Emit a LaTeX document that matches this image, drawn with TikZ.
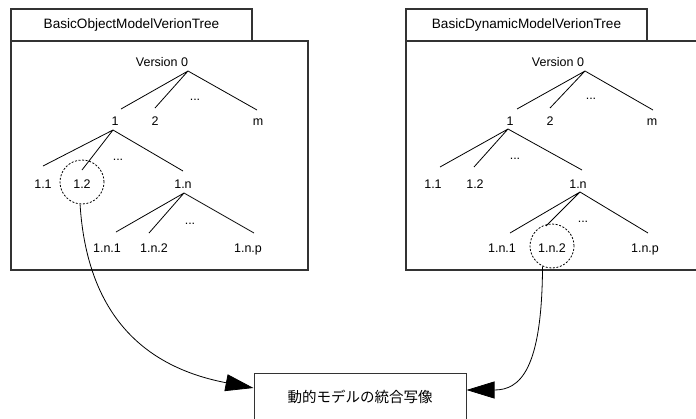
\documentclass[tikz,border=0pt]{standalone}
\usepackage{fontspec}
\setmainfont{Liberation Sans}
\newfontfamily\jpfont{Noto Sans CJK JP}
\usetikzlibrary{arrows.meta}

\begin{document}
\begin{tikzpicture}[x=1pt,y=-1pt,
  frameline/.style={draw=black!80,line width=1.1pt},
  titletab/.style={frameline,minimum width=241pt,minimum height=32pt,inner sep=0pt,
    font=\fontsize{13.6}{15}\selectfont},
  lbl/.style={anchor=base,inner sep=0pt,font=\fontsize{12.5}{14}\selectfont},
  dots/.style={anchor=base,inner sep=0pt,font=\fontsize{12.5}{14}\selectfont},
  branch/.style={line width=0.8pt},
  pick/.style={circle,draw,dashed,dash pattern=on 2pt off 1.6pt,line width=0.8pt,
    minimum size=44pt,inner sep=0pt},
  link/.style={line width=0.8pt,-{Triangle[length=28pt,width=17pt]}},
]
\useasboundingbox (0,0) rectangle (696,418);

% ---------- object model version tree ----------
\node[titletab] (tabL) at (131.5,25) {BasicObjectModelVerionTree};
\node[frameline,minimum width=297pt,minimum height=229pt,inner sep=0pt] (frameL) at (159.5,155.5) {};

\node[lbl] (L0) at (162,66.5) {Version 0};
\coordinate (L0a) at (188,71);
\node[lbl] (L1) at (115,125) {1};
\node[lbl] (L2) at (155,125) {2};
\node[lbl] (Lm) at (258,125) {m};
\node[dots] (Ld0) at (195,100) {...};
\coordinate (L1e) at (121,109);
\coordinate (L2e) at (155,108);
\coordinate (Lme) at (257,110);
\draw[branch] (L0a) -- (L1e) (L0a) -- (L2e) (L0a) -- (Lme);

\coordinate (L1a) at (113,130);
\node[lbl] (L11) at (43,188) {1.1};
\node[lbl] (L12) at (82,188) {1.2};
\node[lbl] (L1n) at (183,188) {1.n};
\node[dots] (Ld1) at (118,160) {...};
\coordinate (L11e) at (43,166);
\coordinate (L12e) at (82,170);
\coordinate (L1ne) at (183,171);
\draw[branch] (L1a) -- (L11e) (L1a) -- (L12e) (L1a) -- (L1ne);
\node[pick] (cL) at (82,182) {};

\coordinate (L1na) at (184,193);
\node[lbl] (L1n1) at (107,252) {1.n.1};
\node[lbl] (L1n2) at (154,252) {1.n.2};
\node[lbl] (L1np) at (248,252) {1.n.p};
\node[dots] (Ld2) at (190,224) {...};
\coordinate (L1n1e) at (116,232);
\coordinate (L1n2e) at (149,233);
\coordinate (L1npe) at (254,233);
\draw[branch] (L1na) -- (L1n1e) (L1na) -- (L1n2e) (L1na) -- (L1npe);

% ---------- dynamic model version tree ----------
\node[titletab] (tabR) at (526.5,25) {BasicDynamicModelVerionTree};
\node[frameline,minimum width=291pt,minimum height=229pt,inner sep=0pt] (frameR) at (551.5,155.5) {};

\node[lbl] (R0) at (558,66.5) {Version 0};
\coordinate (R0a) at (585,71);
\node[lbl] (R1) at (510,125) {1};
\node[lbl] (R2) at (550,125) {2};
\node[lbl] (Rm) at (652,125) {m};
\node[dots] (Rd0) at (591,99) {...};
\coordinate (R1e) at (517,109);
\coordinate (R2e) at (550,108);
\coordinate (Rme) at (653,110);
\draw[branch] (R0a) -- (R1e) (R0a) -- (R2e) (R0a) -- (Rme);

\coordinate (R1a) at (508,129);
\node[lbl] (R11) at (433,188) {1.1};
\node[lbl] (R12) at (475,188) {1.2};
\node[lbl] (R1n) at (578,188) {1.n};
\node[dots] (Rd1) at (515,159) {...};
\coordinate (R11e) at (440,167);
\coordinate (R12e) at (474,167);
\coordinate (R1ne) at (582,170);
\draw[branch] (R1a) -- (R11e) (R1a) -- (R12e) (R1a) -- (R1ne);

\coordinate (R1na) at (580,192);
\node[lbl] (R1n1) at (502,252) {1.n.1};
\node[lbl] (R1n2) at (552,252) {1.n.2};
\node[lbl] (R1np) at (645,252) {1.n.p};
\node[dots] (Rd2) at (583,222) {...};
\coordinate (R1n1e) at (510,233);
\coordinate (R1n2e) at (546,226);
\coordinate (R1npe) at (648,233);
\draw[branch] (R1na) -- (R1n1e) (R1na) -- (R1n2e) (R1na) -- (R1npe);
\node[pick] (cR) at (552,246) {};

% ---------- merged mapping ----------
\node[draw=black!80,line width=1pt,minimum width=212pt,minimum height=48pt,inner sep=0pt,
  font=\jpfont\fontsize{14.5}{16}\selectfont] (merge) at (360,397) {動的モデルの統合写像};

\draw[link] (cL.-95) .. controls (88,330) and (160,370) .. (merge.west |- 0,388);
\draw[link] (cR.-115) .. controls (542,370) and (520,390) .. (merge.east |- 0,390);
\end{tikzpicture}
\end{document}
